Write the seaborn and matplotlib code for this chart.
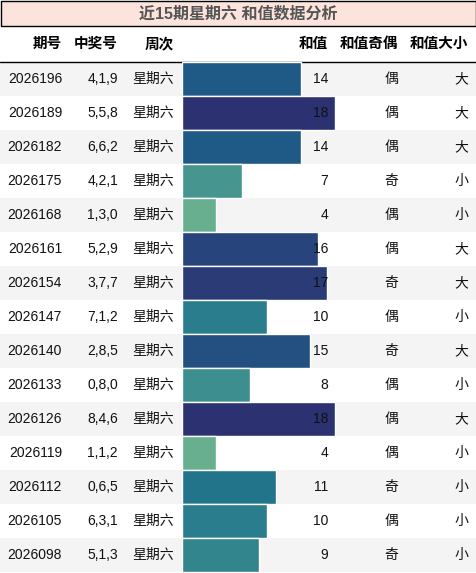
import matplotlib
matplotlib.use("Agg")
import matplotlib.pyplot as plt
import seaborn as sns
import pandas as pd
from matplotlib.patches import Rectangle
from matplotlib.colors import Normalize

sns.set_theme(style="white")
plt.rcParams['font.family'] = ['Liberation Sans', 'Noto Sans CJK SC']

issues = ["2026196","2026189","2026182","2026175","2026168","2026161","2026154","2026147",
          "2026140","2026133","2026126","2026119","2026112","2026105","2026098"]
numbers = ["4,1,9","5,5,8","6,6,2","4,2,1","1,3,0","5,2,9","3,7,7","7,1,2",
           "2,8,5","0,8,0","8,4,6","1,1,2","0,6,5","6,3,1","5,1,3"]
weekday = ["星期六"] * 15
sums = [14,18,14,7,4,16,17,10,15,8,18,4,11,10,9]
parity = ["偶","偶","偶","奇","偶","偶","奇","偶","奇","偶","偶","偶","奇","偶","奇"]
size = ["大","大","大","小","小","大","大","小","大","小","大","小","小","小","小"]
headers = ["期号","中奖号","周次","和值","和值奇偶","和值大小"]
title = "近15期星期六 和值数据分析"

W, H = 476, 573
fig = plt.figure(figsize=(W/100, H/100), dpi=100)
top_rows, row_h = 62, 34
n = len(sums)

def fx(px): return px / W
def fy(py): return 1 - py / H

# background stripes
bg = fig.add_axes([0, 0, 1, 1], zorder=0)
bg.set_xlim(0, W); bg.set_ylim(H, 0); bg.axis("off")
for i in range(n):
    if i % 2 == 0:
        bg.add_patch(Rectangle((0, top_rows + i*row_h), W, row_h, color="#f4f4f4", lw=0))
bg.add_patch(Rectangle((0.5, 1), W-1, 25, facecolor="#fce4dc", edgecolor="black", lw=1))
bg.plot([0, W], [61.5, 61.5], color="black", lw=1)

# bars
x0 = 182; unit = 8.5
bax = fig.add_axes([fx(x0), 1 - (top_rows + n*row_h)/H, 1 - fx(x0), n*row_h/H], zorder=1)
bax.patch.set_alpha(0)
cmap = sns.color_palette("crest", as_cmap=True)
norm = Normalize(vmin=0, vmax=18)
df = pd.DataFrame({"issue": issues, "sum": sums})
sns.barplot(data=df, x="sum", y="issue", hue="issue", palette=[cmap(norm(v)) for v in sums],
            width=1.0, legend=False, ax=bax, saturation=1)
bax.set_xlim(0, (W - x0)/unit)
bax.set_ylim(n - 0.5, -0.5)
bax.axis("off")

# text
fig.text(0.5, fy(13.5), title, ha="center", va="center", fontsize=11.5, fontweight="bold", color="#555555")
rights = [62, 118, 174, 328, 398, 468]
for r, h in zip(rights, headers):
    fig.text(fx(r), fy(44), h, ha="right", va="center", fontsize=10.5, fontweight="bold", color="black")
cols = [issues, numbers, weekday, [str(s) for s in sums], parity, size]
for i in range(n):
    yc = top_rows + (i + 0.5)*row_h
    for r, col in zip(rights, cols):
        fig.text(fx(r), fy(yc), col[i], ha="right", va="center", fontsize=10, color="#111111")

fig.savefig("out.png", dpi=100)
